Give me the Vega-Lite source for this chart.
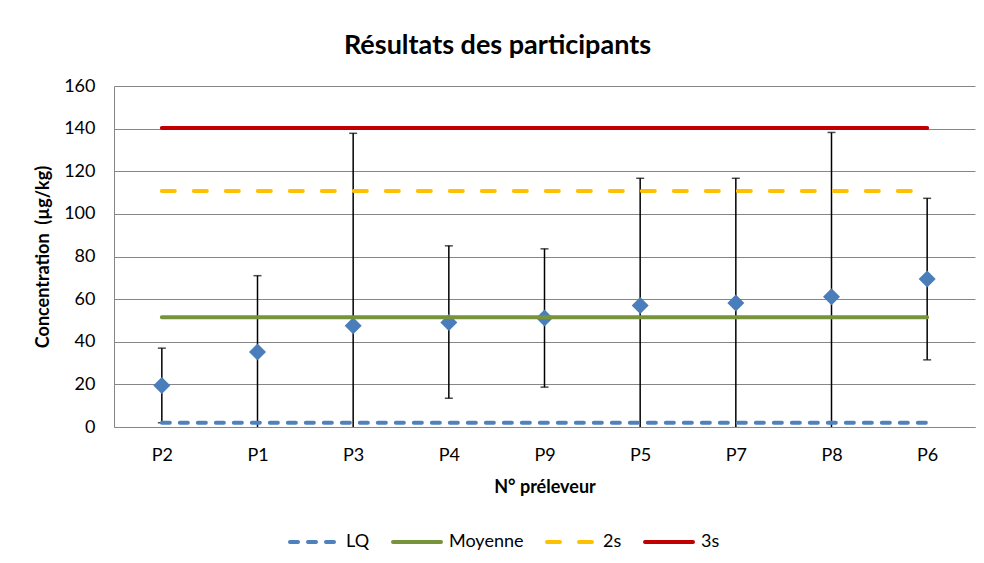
{
  "$schema": "https://vega.github.io/schema/vega-lite/v6.json",
  "width": 861,
  "height": 341,
  "autosize": {"type": "none"},
  "padding": {"left": 114, "top": 86, "right": 9, "bottom": 136},
  "background": "white",
  "title": {
    "text": "Résultats des participants",
    "font": "Lato",
    "fontSize": 27,
    "fontWeight": "bold",
    "color": "black",
    "anchor": "middle",
    "frame": "group",
    "dx": -47,
    "offset": 17
  },
  "datasets": {
    "participants": [
      {"participant": "P2", "valeur": 19.5, "bas": 2, "haut": 37},
      {"participant": "P1", "valeur": 35.2, "bas": -0.6, "haut": 71},
      {"participant": "P3", "valeur": 47.5, "bas": -43, "haut": 137.8},
      {"participant": "P4", "valeur": 49, "bas": 13.5, "haut": 85},
      {"participant": "P9", "valeur": 51.2, "bas": 18.7, "haut": 83.6},
      {"participant": "P5", "valeur": 57, "bas": -2.7, "haut": 116.7},
      {"participant": "P7", "valeur": 58.2, "bas": -0.3, "haut": 116.7},
      {"participant": "P8", "valeur": 61.1, "bas": -16, "haut": 138.2},
      {"participant": "P6", "valeur": 69.4, "bas": 31.5, "haut": 107.3}
    ],
    "seuils": [
      {"serie": "LQ", "valeur": 2, "debut": "P2", "fin": "P6"},
      {"serie": "Moyenne", "valeur": 51.5, "debut": "P2", "fin": "P6"},
      {"serie": "2s", "valeur": 110.7, "debut": "P2", "fin": "P6"},
      {"serie": "3s", "valeur": 140.3, "debut": "P2", "fin": "P6"}
    ]
  },
  "layer": [
    {
      "data": {"name": "participants"},
      "mark": {"type": "rule", "color": "black", "strokeWidth": 1.5, "clip": true},
      "encoding": {
        "x": {"field": "participant", "type": "nominal", "title": "N° préleveur",
              "scale": {"type": "point", "domain": ["P2","P1","P3","P4","P9","P5","P7","P8","P6"], "padding": 0.5}},
        "y": {"field": "bas", "type": "quantitative", "title": "Concentration\u00a0 (µg/kg)",
              "scale": {"domain": [0, 160], "nice": false}},
        "y2": {"field": "haut"}
      }
    },
    {
      "data": {"name": "participants"},
      "mark": {"type": "tick", "color": "black", "size": 8, "thickness": 1.5, "clip": true},
      "encoding": {
        "x": {"field": "participant", "type": "nominal", "title": "N° préleveur"},
        "y": {"field": "haut", "type": "quantitative", "title": "Concentration\u00a0 (µg/kg)"}
      }
    },
    {
      "data": {"name": "participants"},
      "mark": {"type": "tick", "color": "black", "size": 8, "thickness": 1.5, "clip": true},
      "encoding": {
        "x": {"field": "participant", "type": "nominal", "title": "N° préleveur"},
        "y": {"field": "bas", "type": "quantitative", "title": "Concentration\u00a0 (µg/kg)"}
      }
    },
    {
      "data": {"name": "participants"},
      "mark": {"type": "point", "shape": "diamond", "filled": true, "size": 289, "color": "#4A7EBB", "opacity": 1},
      "encoding": {
        "x": {"field": "participant", "type": "nominal", "title": "N° préleveur"},
        "y": {"field": "valeur", "type": "quantitative", "title": "Concentration\u00a0 (µg/kg)"}
      }
    },
    {
      "data": {"name": "seuils"},
      "mark": {"type": "rule", "strokeWidth": 4, "strokeCap": "round"},
      "encoding": {
        "x": {"field": "debut", "type": "nominal", "title": "N° préleveur"},
        "x2": {"field": "fin"},
        "y": {"field": "valeur", "type": "quantitative", "title": "Concentration\u00a0 (µg/kg)"},
        "color": {
          "field": "serie", "type": "nominal",
          "scale": {"domain": ["LQ","Moyenne","2s","3s"], "range": ["#4F81BD","#77933C","#FFC000","#C00000"]},
          "legend": {"title": null, "orient": "none", "legendX": 174, "legendY": 430, "direction": "horizontal",
                     "symbolType": "stroke", "symbolSize": 2304, "symbolStrokeWidth": 4,
                     "labelFont": "Lato", "labelFontSize": 18, "labelColor": "black",
                     "columnPadding": 15, "labelOffset": 6, "padding": 0,
                     "encode": {"symbols": {"update": {"strokeCap": {"value": "round"}}}}}
        },
        "strokeDash": {
          "field": "serie", "type": "nominal",
          "scale": {"domain": ["LQ","Moyenne","2s","3s"], "range": [[8,10],[1,0],[13,19],[1,0]]},
          "legend": {"title": null, "orient": "none", "legendX": 174, "legendY": 430, "direction": "horizontal",
                     "symbolType": "stroke", "symbolSize": 2304, "symbolStrokeWidth": 4,
                     "labelFont": "Lato", "labelFontSize": 18, "labelColor": "black",
                     "columnPadding": 15, "labelOffset": 6, "padding": 0,
                     "encode": {"symbols": {"update": {"strokeCap": {"value": "round"}}}}}
        }
      }
    }
  ],
  "config": {
    "font": "Lato",
    "view": {"stroke": null},
    "axis": {
      "labelFont": "Lato", "labelFontSize": 18, "labelColor": "black",
      "titleFont": "Lato", "titleFontSize": 18, "titleFontWeight": "bold", "titleColor": "black",
      "domainColor": "#868686", "domainWidth": 1,
      "gridColor": "#868686", "gridWidth": 1,
      "ticks": false, "tickSize": 0
    },
    "axisX": {"grid": false, "labelPadding": 19, "titlePadding": 14, "labelAngle": 0},
    "axisY": {"grid": true, "labelPadding": 19, "titlePadding": 11, "values": [0,20,40,60,80,100,120,140,160]}
  }
}
